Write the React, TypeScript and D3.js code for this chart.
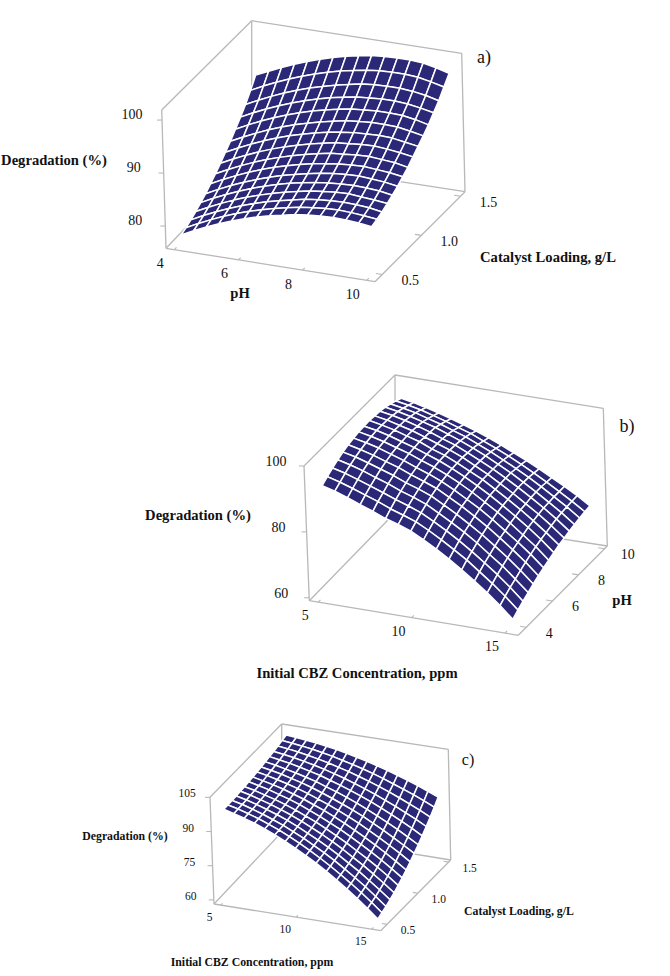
import * as React from "react";
import { useRef, useEffect } from "react";
import * as d3 from "d3";

const FONT = "'Liberation Serif', 'Times New Roman', serif";
const NAVY = "#2a2877";
const GREY = "#b8b8b8";

// tick labels
const phTicksA = [4, 6, 8, 10];
const loadingTicks = [0.5, 1.0, 1.5];
const degTicksA = [80, 90, 100];
const concTicks = [5, 10, 15];
const phTicksB = [4, 6, 8, 10];
const degTicksB = [60, 80, 100];
const degTicksC = [60, 75, 90, 105];

const degradationA = [
  [77.2, 78.4, 79.5, 80.5, 81.4, 82.2, 82.9, 83.5, 84.0, 84.5, 84.8, 85.0, 85.1, 85.0, 84.8, 84.5],
  [77.6, 78.8, 79.9, 80.9, 81.8, 82.6, 83.3, 83.9, 84.4, 84.9, 85.2, 85.4, 85.5, 85.4, 85.2, 84.9],
  [78.1, 79.3, 80.4, 81.4, 82.3, 83.1, 83.8, 84.4, 84.9, 85.4, 85.7, 85.9, 86.0, 85.9, 85.7, 85.3],
  [78.7, 79.9, 81.0, 82.0, 82.9, 83.7, 84.4, 85.0, 85.5, 86.0, 86.3, 86.5, 86.6, 86.4, 86.2, 85.9],
  [79.4, 80.6, 81.7, 82.7, 83.6, 84.4, 85.1, 85.7, 86.2, 86.6, 86.9, 87.1, 87.2, 87.1, 86.9, 86.5],
  [80.1, 81.3, 82.4, 83.4, 84.3, 85.1, 85.8, 86.4, 86.9, 87.4, 87.7, 87.9, 88.0, 87.8, 87.6, 87.2],
  [81.0, 82.2, 83.3, 84.3, 85.2, 86.0, 86.7, 87.3, 87.8, 88.2, 88.5, 88.7, 88.8, 88.6, 88.4, 88.0],
  [81.9, 83.1, 84.2, 85.2, 86.1, 86.9, 87.6, 88.2, 88.7, 89.2, 89.4, 89.6, 89.7, 89.5, 89.3, 88.8],
  [82.9, 84.1, 85.2, 86.2, 87.1, 87.9, 88.6, 89.2, 89.7, 90.2, 90.4, 90.6, 90.7, 90.5, 90.2, 89.8],
  [84.0, 85.2, 86.3, 87.3, 88.2, 89.0, 89.7, 90.3, 90.8, 91.2, 91.5, 91.6, 91.7, 91.6, 91.2, 90.8],
  [85.1, 86.3, 87.4, 88.4, 89.3, 90.1, 90.8, 91.4, 91.9, 92.4, 92.6, 92.8, 92.8, 92.7, 92.3, 91.8],
  [86.4, 87.6, 88.7, 89.7, 90.6, 91.4, 92.1, 92.7, 93.2, 93.6, 93.8, 94.0, 94.0, 93.9, 93.5, 92.9],
  [87.7, 88.9, 90.0, 91.0, 91.9, 92.7, 93.4, 94.0, 94.5, 94.9, 95.1, 95.3, 95.3, 95.1, 94.7, 94.2],
  [89.1, 90.3, 91.4, 92.4, 93.3, 94.1, 94.8, 95.4, 95.9, 96.4, 96.6, 96.7, 96.7, 96.5, 96.1, 95.5],
  [90.8, 92.0, 93.1, 94.1, 95.0, 95.8, 96.5, 97.1, 97.6, 98.0, 98.3, 98.4, 98.4, 98.2, 97.7, 97.1],
  [92.7, 93.8, 94.9, 95.9, 96.8, 97.6, 98.3, 98.9, 99.4, 99.8, 100.0, 100.1, 100.1, 99.9, 99.4, 98.7],
];

const degradationB = [
  [92.0, 90.9, 89.5, 88.0, 86.6, 85.0, 83.8, 82.4, 80.4, 78.2, 75.8, 73.2, 70.4, 67.5, 64.3, 60.8],
  [93.1, 92.0, 90.7, 89.3, 87.9, 86.3, 85.0, 83.6, 81.6, 79.4, 77.0, 74.5, 71.6, 68.7, 65.5, 62.0],
  [94.1, 93.1, 91.8, 90.4, 89.0, 87.5, 86.2, 84.7, 82.7, 80.5, 78.1, 75.5, 72.7, 69.8, 66.6, 63.1],
  [95.0, 94.0, 92.8, 91.4, 90.1, 88.5, 87.2, 85.7, 83.6, 81.4, 79.1, 76.5, 73.6, 70.8, 67.5, 64.1],
  [95.7, 94.8, 93.6, 92.3, 91.0, 89.4, 88.1, 86.6, 84.5, 82.3, 79.9, 77.4, 74.6, 71.7, 68.5, 65.1],
  [96.3, 95.4, 94.3, 93.0, 91.8, 90.2, 88.8, 87.3, 85.2, 83.1, 80.7, 78.2, 75.4, 72.5, 69.4, 66.0],
  [96.7, 95.9, 94.9, 93.6, 92.3, 90.8, 89.4, 87.8, 85.8, 83.6, 81.4, 78.8, 76.0, 73.2, 70.2, 66.8],
  [97.0, 96.2, 95.2, 94.0, 92.8, 91.3, 89.9, 88.2, 86.3, 84.2, 81.8, 79.4, 76.7, 73.8, 70.9, 67.5],
  [97.1, 96.4, 95.4, 94.2, 93.0, 91.6, 90.2, 88.5, 86.6, 84.5, 82.3, 79.8, 77.2, 74.5, 71.5, 68.2],
  [97.2, 96.4, 95.5, 94.3, 93.2, 91.6, 90.3, 88.6, 86.7, 84.8, 82.5, 80.1, 77.6, 74.9, 72.0, 68.9],
  [97.0, 96.3, 95.3, 94.3, 93.0, 91.6, 90.3, 88.7, 86.8, 84.8, 82.6, 80.3, 77.8, 75.3, 72.5, 69.4],
  [96.8, 96.1, 95.2, 94.1, 92.9, 91.5, 90.2, 88.5, 86.7, 84.8, 82.7, 80.5, 78.1, 75.6, 72.9, 69.9],
  [96.4, 95.7, 94.8, 93.8, 92.7, 91.3, 89.9, 88.3, 86.6, 84.7, 82.7, 80.5, 78.2, 75.7, 73.2, 70.3],
  [95.8, 95.1, 94.3, 93.2, 92.1, 90.8, 89.5, 87.9, 86.2, 84.4, 82.4, 80.4, 78.2, 75.8, 73.4, 70.7],
  [95.1, 94.4, 93.6, 92.5, 91.4, 90.1, 88.9, 87.3, 85.7, 84.0, 82.1, 80.1, 78.0, 75.8, 73.5, 71.0],
  [94.3, 93.6, 92.7, 91.7, 90.6, 89.4, 88.1, 86.7, 85.1, 83.4, 81.7, 79.8, 77.8, 75.8, 73.6, 71.2],
];

const degradationC = [
  [97.3, 96.1, 94.7, 93.2, 91.4, 89.5, 87.3, 85.0, 82.5, 79.9, 77.0, 73.9, 70.7, 67.3, 63.7, 59.9],
  [97.3, 96.2, 94.8, 93.3, 91.5, 89.7, 87.5, 85.3, 82.8, 80.2, 77.4, 74.4, 71.3, 68.0, 64.5, 60.8],
  [97.4, 96.3, 94.9, 93.4, 91.7, 89.9, 87.8, 85.6, 83.2, 80.7, 78.0, 75.0, 72.0, 68.8, 65.3, 61.7],
  [97.5, 96.4, 95.1, 93.6, 92.0, 90.2, 88.2, 86.0, 83.7, 81.2, 78.6, 75.7, 72.8, 69.6, 66.3, 62.8],
  [97.7, 96.6, 95.3, 93.9, 92.3, 90.6, 88.6, 86.5, 84.3, 81.9, 79.3, 76.5, 73.7, 70.6, 67.4, 64.0],
  [97.8, 96.8, 95.5, 94.2, 92.7, 91.0, 89.1, 87.1, 84.9, 82.6, 80.1, 77.4, 74.7, 71.8, 68.7, 65.4],
  [98.1, 97.0, 95.9, 94.5, 93.1, 91.5, 89.6, 87.7, 85.6, 83.4, 81.0, 78.4, 75.8, 73.0, 70.0, 66.8],
  [98.3, 97.3, 96.2, 95.0, 93.5, 92.0, 90.2, 88.4, 86.4, 84.3, 82.0, 79.5, 77.0, 74.3, 71.4, 68.4],
  [98.6, 97.7, 96.6, 95.4, 94.1, 92.6, 90.9, 89.2, 87.3, 85.3, 83.1, 80.7, 78.3, 75.7, 73.0, 70.1],
  [98.9, 98.1, 97.1, 95.9, 94.7, 93.3, 91.7, 90.0, 88.2, 86.3, 84.3, 82.0, 79.7, 77.2, 74.6, 71.9],
  [99.3, 98.5, 97.5, 96.5, 95.3, 94.1, 92.5, 91.0, 89.3, 87.5, 85.5, 83.4, 81.2, 78.9, 76.4, 73.8],
  [99.7, 98.9, 98.1, 97.1, 96.0, 94.9, 93.4, 92.0, 90.4, 88.7, 86.9, 84.9, 82.8, 80.6, 78.3, 75.8],
  [100.1, 99.4, 98.7, 97.8, 96.8, 95.7, 94.4, 93.1, 91.6, 90.0, 88.3, 86.4, 84.5, 82.4, 80.3, 78.0],
  [100.6, 100.0, 99.3, 98.5, 97.6, 96.6, 95.4, 94.2, 92.8, 91.4, 89.8, 88.1, 86.3, 84.4, 82.4, 80.2],
  [101.1, 100.6, 100.0, 99.3, 98.5, 97.6, 96.5, 95.4, 94.2, 92.9, 91.4, 89.8, 88.2, 86.5, 84.6, 82.6],
  [101.6, 101.2, 100.7, 100.2, 99.4, 98.7, 97.7, 96.7, 95.6, 94.4, 93.1, 91.7, 90.2, 88.6, 86.9, 85.1],
];

const fmtInt = (d: number) => String(d);
const fmtDec = (d: number) => d.toFixed(1);

const panels: any[] = [
  {
    // a) pH / catalyst loading
    box: {
      fl0: [166, 248.3], fr0: [375, 281.7], br0: [465, 191.7], bl0: [251.7, 158.7],
      fl1: [161.7, 110], fr1: [368, 142], br1: [461.7, 53.3], bl1: [251.7, 20.7],
    },
    z: degradationA,
    xTicks: phTicksA, yTicks: loadingTicks, zTicks: degTicksA,
    yFormat: fmtDec,
    xRange: [0.04, 0.96], yRange: [0.08, 0.95], zDomain: [75.8, 101.9],
    xOff: [-14, 13.5], yOff: [28, 6], zOff: [-30, -6],
    tickSize: 14, boldSize: 14.6,
    labels: [
      { t: "Degradation (%)", x: 54, y: 160 },
      { t: "pH", x: 240, y: 293 },
      { t: "Catalyst Loading, g/L", x: 548, y: 257 },
    ],
    tag: { t: "a)", x: 484, y: 57, size: 18 },
  },
  {
    // b) initial concentration / pH
    box: {
      fl0: [309.3, 600.7], fr0: [518.3, 635.3], br0: [607.3, 546], bl0: [395, 512.7],
      fl1: [304, 466], fr1: [515, 498], br1: [603.3, 408.3], bl1: [395, 375],
    },
    z: degradationB,
    xTicks: concTicks, yTicks: phTicksB, zTicks: degTicksB,
    yFormat: fmtInt,
    xRange: [0.043, 0.936], yRange: [0.09, 0.97], zDomain: [59.1, 100],
    xOff: [-13, 13], yOff: [23, 5.5], zOff: [-28, -5],
    tickSize: 14, boldSize: 14.6,
    labels: [
      { t: "Degradation (%)", x: 198, y: 515 },
      { t: "pH", x: 622, y: 600 },
      { t: "Initial CBZ Concentration, ppm", x: 357, y: 673 },
    ],
    tag: { t: "b)", x: 627, y: 426, size: 18 },
  },
  {
    // c) initial concentration / catalyst loading
    box: {
      fl0: [214, 904], fr0: [380.7, 930.7], br0: [450.7, 860], bl0: [281.7, 832.3],
      fl1: [210, 797.3], fr1: [378, 822.3], br1: [448.3, 749.3], bl1: [281.7, 724],
    },
    z: degradationC,
    xTicks: concTicks, yTicks: loadingTicks, zTicks: degTicksC,
    yFormat: fmtDec,
    xRange: [0.04, 0.946], yRange: [0.09, 0.97], zDomain: [58.2, 105],
    xOff: [-11, 12], yOff: [21, 5.5], zOff: [-23, -4],
    tickSize: 11.5, boldSize: 11.8,
    labels: [
      { t: "Degradation (%)", x: 125, y: 836 },
      { t: "Catalyst Loading, g/L", x: 519, y: 911 },
      { t: "Initial CBZ Concentration, ppm", x: 252, y: 962 },
    ],
    tag: { t: "c)", x: 468, y: 759, size: 16 },
  },
];

const drawPanel = (root: any, p: any) => {
  const g = root.append("g");
  const b = p.box;
  const xScale = d3.scaleLinear().domain(d3.extent(p.xTicks) as any).range(p.xRange);
  const yScale = d3.scaleLinear().domain(d3.extent(p.yTicks) as any).range(p.yRange);
  const zScale = d3.scaleLinear().domain(p.zDomain).range([0, 1]);

  // box corners are mapped trilinearly, close enough to the original's perspective
  const project = (u: number, v: number, w: number): [number, number] => {
    const at = (k: number) => {
      const low = (1 - u) * (1 - v) * b.fl0[k] + u * (1 - v) * b.fr0[k] + u * v * b.br0[k] + (1 - u) * v * b.bl0[k];
      const high = (1 - u) * (1 - v) * b.fl1[k] + u * (1 - v) * b.fr1[k] + u * v * b.br1[k] + (1 - u) * v * b.bl1[k];
      return low + (high - low) * w;
    };
    return [at(0), at(1)];
  };

  const line = d3.line();
  const edges = [
    ["fl0", "fl1"], ["fl1", "bl1"], ["bl1", "bl0"], ["bl1", "br1"], ["br1", "br0"],
    ["fl0", "fr0"], ["fr0", "br0"], ["br0", "bl0"], ["bl0", "fl0"],
  ];
  g.selectAll("path.edge")
    .data(edges)
    .enter()
    .append("path")
    .attr("class", "edge")
    .attr("d", (d: any) => line([b[d[0]], b[d[1]]]))
    .attr("fill", "none")
    .attr("stroke", GREY)
    .attr("stroke-width", 1.3);

  const tick = (a: [number, number], c: [number, number]) =>
    g.append("path").attr("d", line([a, c])).attr("stroke", GREY).attr("stroke-width", 1.1);
  const label = (t: string, x: number, y: number, size: number, weight = "normal") =>
    g.append("text")
      .attr("x", x)
      .attr("y", y)
      .attr("dy", "0.35em")
      .attr("text-anchor", "middle")
      .attr("font-family", FONT)
      .attr("font-size", size)
      .attr("font-weight", weight)
      .attr("fill", "#111")
      .text(t);

  p.xTicks.forEach((d: number) => {
    const a = project(xScale(d), 0, 0);
    tick(a, project(xScale(d), 0.025, 0));
    label(fmtInt(d), a[0] + p.xOff[0], a[1] + p.xOff[1], p.tickSize);
  });
  p.yTicks.forEach((d: number) => {
    const a = project(1, yScale(d), 0);
    tick(a, project(0.97, yScale(d), 0));
    label(p.yFormat(d), a[0] + p.yOff[0], a[1] + p.yOff[1], p.tickSize);
  });
  p.zTicks.forEach((d: number) => {
    const a = project(0, 0, zScale(d));
    tick(a, [a[0] - 5, a[1]]);
    label(fmtInt(d), a[0] + p.zOff[0], a[1] + p.zOff[1], p.tickSize);
  });

  // mesh, painted from the back row to the front one
  const nx = p.z[0].length;
  const ny = p.z.length;
  const gridX = d3.scaleLinear().domain([0, nx - 1]).range(xScale.domain());
  const gridY = d3.scaleLinear().domain([0, ny - 1]).range(yScale.domain());
  const pt = (i: number, j: number) => project(xScale(gridX(i)), yScale(gridY(j)), zScale(p.z[j][i]));
  const cells: [number, number][] = [];
  for (let j = ny - 2; j >= 0; j--) for (let i = 0; i < nx - 1; i++) cells.push([i, j]);
  g.selectAll("path.cell")
    .data(cells)
    .enter()
    .append("path")
    .attr("class", "cell")
    .attr("d", ([i, j]: number[]) => line([pt(i, j), pt(i + 1, j), pt(i + 1, j + 1), pt(i, j + 1)]) + "Z")
    .attr("fill", NAVY)
    .attr("stroke", "#fff")
    .attr("stroke-width", 1.5)
    .attr("stroke-linejoin", "round");

  p.labels.forEach((l: any) => label(l.t, l.x, l.y, p.boldSize, "bold"));
  label(p.tag.t, p.tag.x, p.tag.y, p.tag.size);
};

export default function App() {
  const svgRef = useRef<SVGSVGElement>(null);

  useEffect(() => {
    const svg = d3.select(svgRef.current);
    svg.selectAll("*").remove();
    panels.forEach((p) => drawPanel(svg, p));
  }, []);

  return (
    <svg
      ref={svgRef}
      width={670}
      height={976}
      style={{ position: "absolute", left: 0, top: 0, background: "#fff" }}
    />
  );
}
